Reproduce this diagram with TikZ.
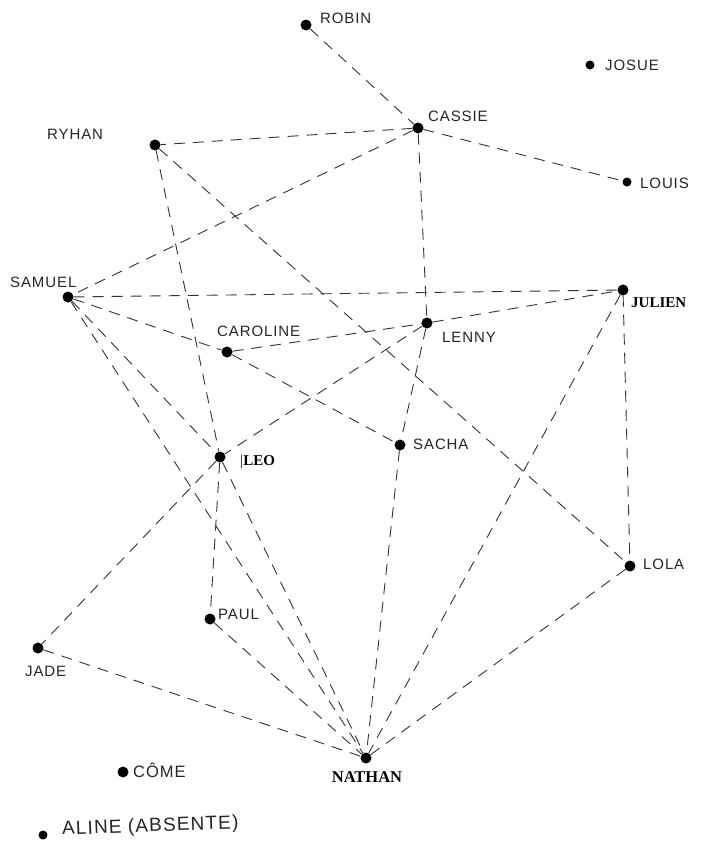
\documentclass[tikz,border=0pt]{standalone}
\usepackage{fontspec}
\newfontfamily\hand[LetterSpace=6]{Liberation Sans}
\newfontfamily\typed{Liberation Serif}
\begin{document}
\begin{tikzpicture}[x=1pt,y=-1pt,
  pupil/.style={circle,fill=black,inner sep=0pt,minimum size=11pt},
  small/.style={circle,fill=black,inner sep=0pt,minimum size=9pt},
  link/.style={draw=black!80,dash pattern=on 11pt off 8pt,line width=0.9pt},
  hw/.style={anchor=west,inner sep=0pt,font=\hand\fontsize{15}{16}\selectfont,text=black!85},
  tp/.style={anchor=west,inner sep=0pt,font=\typed\bfseries\fontsize{15}{16}\selectfont}]
\useasboundingbox (0,0) rectangle (704,846);
\fill[white] (0,0) rectangle (704,846);
% dots
\node[pupil] (robin) at (306,25) {};
\node[pupil] (cassie) at (418,128) {};
\node[small] (josue) at (590,65) {};
\node[small] (louis) at (627,182) {};
\node[pupil] (ryhan) at (155,145) {};
\node[pupil] (samuel) at (68,297) {};
\node[pupil] (caroline) at (227,352) {};
\node[pupil] (lenny) at (427,323) {};
\node[pupil] (julien) at (623,290) {};
\node[pupil] (sacha) at (400,445) {};
\node[pupil] (leo) at (220,457) {};
\node[pupil] (lola) at (630,566) {};
\node[pupil] (paul) at (210,619) {};
\node[pupil] (jade) at (38,648) {};
\node[pupil] (nathan) at (366,758) {};
\node[pupil] (come) at (123,772) {};
\node[small] (aline) at (43,835) {};
% links
\foreach \a/\b in {robin/cassie,cassie/louis,cassie/ryhan,cassie/samuel,cassie/lenny,
  ryhan/leo,ryhan/lola,samuel/julien,samuel/caroline,samuel/leo,samuel/nathan,
  caroline/lenny,caroline/sacha,lenny/julien,lenny/leo,lenny/sacha,sacha/nathan,
  julien/nathan,julien/lola,lola/nathan,leo/jade,leo/paul,leo/nathan,paul/nathan,jade/nathan}
  \draw[link] (\a) -- (\b);
% labels
\node[hw] (lrobin) at (320,18) {ROBIN};
\node[hw] (lcassie) at (428,116) {CASSIE};
\node[hw] (ljosue) at (605,65) {JOSUE};
\node[hw] (llouis) at (640,183) {LOUIS};
\node[hw] (lryhan) at (47,134) {RYHAN};
\node[hw] (lsamuel) at (10,282) {SAMUEL};
\node[hw] (lcaroline) at (217,331) {CAROLINE};
\node[hw] (llenny) at (442,337) {LENNY};
\node[tp] (ljulien) at (631,303) {JULIEN};
\node[hw] (lsacha) at (413,444) {SACHA};
\node[tp] (lleo) at (239,462) {{\mdseries\itshape|}LEO};
\node[hw] (llola) at (643,564) {LOLA};
\node[hw] (lpaul) at (218,614) {PAUL};
\node[hw] (ljade) at (25,671) {JADE};
\node[tp,anchor=center,font=\typed\bfseries\fontsize{16.5}{17}\selectfont] (lnathan) at (367,777) {NATHAN};
\node[hw,font=\hand\fontsize{16.5}{17}\selectfont] (lcome) at (133,770) {CÔME};
\node[hw,rotate=2,font=\hand\fontsize{19}{20}\selectfont] (laline) at (62,830) {ALINE (ABSENTE)};
\end{tikzpicture}
\end{document}
